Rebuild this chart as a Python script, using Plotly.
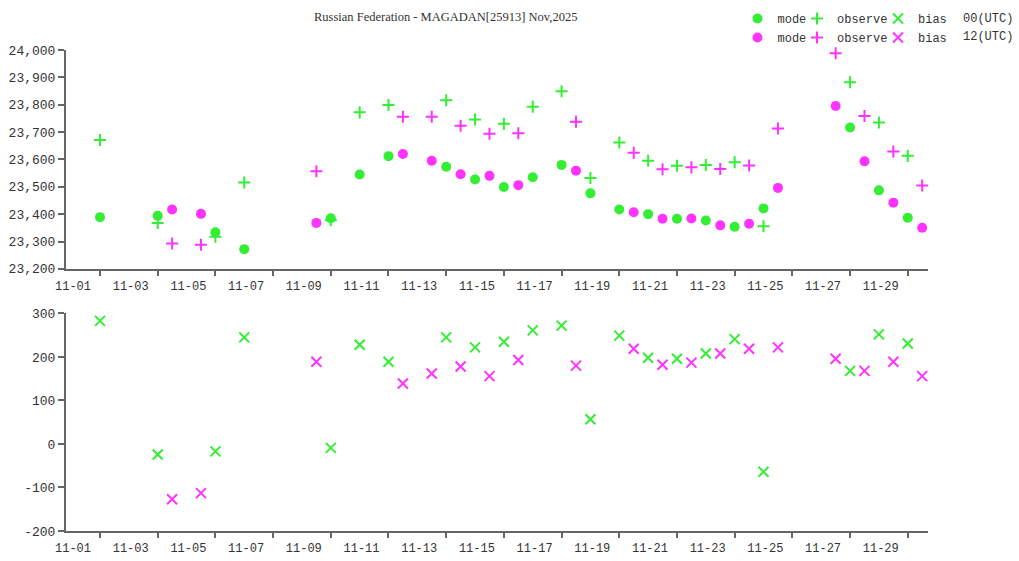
import plotly.graph_objects as go

# ---------------- data ----------------
dates00 = ["2025-11-01", "2025-11-03", "2025-11-05", "2025-11-06", "2025-11-09",
           "2025-11-10", "2025-11-11", "2025-11-13", "2025-11-14", "2025-11-15",
           "2025-11-16", "2025-11-17", "2025-11-18", "2025-11-19", "2025-11-20",
           "2025-11-21", "2025-11-22", "2025-11-23", "2025-11-24", "2025-11-27",
           "2025-11-28", "2025-11-29"]
mode00 = [23389, 23394, 23334, 23272, 23385, 23545, 23612, 23573, 23527, 23499,
          23535, 23580, 23476, 23417, 23400, 23383, 23377, 23354, 23421, 23717,
          23487, 23387]
obs00 = [23671, 23368, 23317, 23516, 23378, 23772, 23799, 23816, 23746, 23730,
         23793, 23849, 23532, 23662, 23595, 23577, 23580, 23590, 23356, 23882,
         23735, 23613]
bias00 = [283, -24, -17, 245, -9, 228, 189, 245, 222, 235,
          261, 272, 57, 249, 198, 196, 208, 241, -64, 168,
          252, 231]

dates12 = ["2025-11-03 12:00", "2025-11-04 12:00", "2025-11-08 12:00", "2025-11-11 12:00",
           "2025-11-12 12:00", "2025-11-13 12:00", "2025-11-14 12:00", "2025-11-15 12:00",
           "2025-11-17 12:00", "2025-11-19 12:00", "2025-11-20 12:00", "2025-11-21 12:00",
           "2025-11-22 12:00", "2025-11-23 12:00", "2025-11-24 12:00", "2025-11-26 12:00",
           "2025-11-27 12:00", "2025-11-28 12:00", "2025-11-29 12:00"]
mode12 = [23417, 23401, 23368, 23620, 23595, 23546, 23540, 23506, 23559, 23407,
          23383, 23384, 23359, 23365, 23496, 23795, 23593, 23442, 23350]
obs12 = [23293, 23288, 23557, 23756, 23756, 23723, 23694, 23696, 23738, 23624,
         23564, 23571, 23565, 23578, 23713, 23988, 23759, 23629, 23505]
bias12 = [-127, -113, 189, 139, 162, 178, 156, 193, 180, 219,
          182, 187, 208, 219, 222, 196, 168, 189, 156]

tick_dates = ["2025-11-%02d" % d for d in range(1, 30, 2)]
tick_labels = ["11-%02d" % d for d in range(1, 30, 2)]
top_ticks = [23200, 23300, 23400, 23500, 23600, 23700, 23800, 23900, 24000]
top_labels = ["23,200", "23,300", "23,400", "23,500", "23,600", "23,700", "23,800", "23,900", "24,000"]
bot_ticks = [-200, -100, 0, 100, 200, 300]
bot_labels = ["-200", "-100", "0", "100", "200", "300"]

title = "Russian Federation - MAGADAN[25913] Nov,2025"

# ---------------- style ----------------
GREEN = "#33ee33"
PINK = "#ff33ff"
AXIS = "#666666"
TXT = "#333333"
FONT = "Liberation Mono"

fig = go.Figure()

def add(x, y, color, symbol, size, xa, ya, name, legend, showlegend):
    if symbol == "circle":
        marker = dict(color=color, size=size, symbol=symbol, line=dict(width=0))
    else:
        marker = dict(color=color, size=size, symbol=symbol, line=dict(color=color, width=2))
    fig.add_trace(go.Scatter(x=x, y=y, mode="markers", marker=marker, name=name,
                             xaxis=xa, yaxis=ya, legend=legend, showlegend=showlegend,
                             cliponaxis=False, hoverinfo="skip"))

add(dates00, mode00, GREEN, "circle", 10, "x", "y", "mode", "legend", True)
add(dates12, mode12, PINK, "circle", 10, "x", "y", "mode", "legend", True)
add(dates00, obs00, GREEN, "cross-thin", 8.6, "x", "y", "observe", "legend2", True)
add(dates12, obs12, PINK, "cross-thin", 8.6, "x", "y", "observe", "legend2", True)
add(dates00, bias00, GREEN, "x-thin", 10, "x2", "y2", "bias", "legend3", True)
add(dates12, bias12, PINK, "x-thin", 10, "x2", "y2", "bias", "legend3", True)

xr = ["2025-10-30 19:43", "2025-11-29 16:50"]
xcommon = dict(range=xr, type="date", tickmode="array", tickvals=tick_dates, ticktext=tick_labels,
               showgrid=False, zeroline=False, showline=True, linecolor=AXIS, linewidth=2,
               ticks="outside", ticklen=5, tickwidth=1.5, tickcolor=AXIS, automargin=False,
               ticklabelshift=-27, tickfont=dict(family=FONT, size=12, color=TXT))
ycommon = dict(showgrid=False, zeroline=False, showline=True, linecolor=AXIS, linewidth=2,
               ticks="outside", ticklen=6, tickwidth=1.5, tickcolor=AXIS, automargin=False,
               tickmode="array", tickfont=dict(family=FONT, size=13, color=TXT))

PW, PH = 862.0, 481.0
legcommon = dict(orientation="v", bgcolor="rgba(0,0,0,0)", font=dict(family=FONT, size=12, color=TXT),
                 xanchor="left", yanchor="middle", y=1 + 22 / PH, itemclick=False, tracegroupgap=0)

fig.update_layout(
    width=1019, height=561,
    margin=dict(l=66, r=91, t=50, b=30, autoexpand=False),
    paper_bgcolor="white", plot_bgcolor="white",
    xaxis=dict(domain=[0, 1], anchor="y", **xcommon),
    yaxis=dict(domain=[0.545, 1], anchor="x", range=[23200, 24000],
               tickvals=top_ticks, ticktext=top_labels, **ycommon),
    xaxis2=dict(domain=[0, 1], anchor="y2", **xcommon),
    yaxis2=dict(domain=[0, 0.4523], anchor="x2", range=[-200, 300],
                tickvals=bot_ticks, ticktext=bot_labels, **ycommon),
    legend=dict(x=(737.5 - 66) / PW, **legcommon),
    legend2=dict(x=(797 - 66) / PW, **legcommon),
    legend3=dict(x=(878 - 66) / PW, **legcommon),
    showlegend=True,
    annotations=[
        dict(text=title, xref="paper", yref="paper", x=(312 - 66) / PW, y=1 + 33 / PH,
             xanchor="left", yanchor="middle", showarrow=False,
             font=dict(family="Liberation Serif", size=12.5, color=TXT)),
        dict(text="00(UTC)", xref="paper", yref="paper", x=(961 - 66) / PW, y=1 + 31 / PH,
             xanchor="left", yanchor="middle", showarrow=False,
             font=dict(family=FONT, size=12, color=TXT)),
        dict(text="12(UTC)", xref="paper", yref="paper", x=(961 - 66) / PW, y=1 + 13 / PH,
             xanchor="left", yanchor="middle", showarrow=False,
             font=dict(family=FONT, size=12, color=TXT)),
    ],
)

fig.write_html("out.html", post_script="document.body.style.margin='0px';",
               config={"displayModeBar": False})
